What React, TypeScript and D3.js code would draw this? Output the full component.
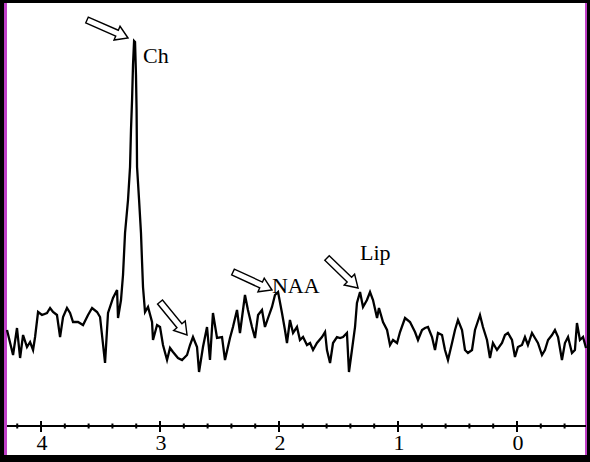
import React, { useEffect, useRef } from "react";
import * as d3 from "d3";

// chemical shift (ppm) and signal amplitude (a.u.)
const shiftPpm = [
  4.286, 4.235, 4.202, 4.176, 4.151, 4.118, 4.092, 4.067, 4.05, 4.025, 3.992, 3.95, 3.924, 3.899,
  3.866, 3.84, 3.815, 3.782, 3.756, 3.731, 3.689, 3.647, 3.605, 3.571, 3.529, 3.504, 3.462, 3.437,
  3.395, 3.361, 3.353, 3.328, 3.311, 3.294, 3.269, 3.252, 3.244, 3.235, 3.227, 3.218, 3.21, 3.202,
  3.197, 3.193, 3.176, 3.16, 3.151, 3.143, 3.126, 3.101, 3.067, 3.059, 3.025, 3.0, 2.975, 2.941,
  2.916, 2.891, 2.849, 2.815, 2.773, 2.748, 2.723, 2.689, 2.672, 2.639, 2.605, 2.58, 2.555, 2.521,
  2.479, 2.454, 2.412, 2.387, 2.353, 2.328, 2.286, 2.261, 2.227, 2.202, 2.176, 2.143, 2.118, 2.092,
  2.059, 2.034, 2.008, 1.975, 1.95, 1.933, 1.908, 1.882, 1.849, 1.824, 1.798, 1.765, 1.739, 1.714,
  1.681, 1.639, 1.613, 1.597, 1.571, 1.546, 1.513, 1.487, 1.462, 1.429, 1.412, 1.387, 1.361, 1.345,
  1.319, 1.294, 1.261, 1.235, 1.21, 1.176, 1.16, 1.126, 1.092, 1.067, 1.042, 1.008, 0.983, 0.941,
  0.899, 0.857, 0.832, 0.798, 0.773, 0.748, 0.714, 0.689, 0.664, 0.63, 0.605, 0.58, 0.546, 0.521,
  0.496, 0.462, 0.437, 0.412, 0.378, 0.353, 0.311, 0.286, 0.252, 0.227, 0.202, 0.168, 0.126, 0.101,
  0.076, 0.042, 0.017, -0.008, -0.042, -0.067, -0.092, -0.126, -0.151, -0.176, -0.21, -0.235,
  -0.261, -0.294, -0.319, -0.345, -0.378, -0.403, -0.429, -0.462, -0.487, -0.504, -0.529, -0.555,
  -0.58,
];

const amplitude = [
  50, 25, 52, 22, 45, 33, 38, 30, 43, 68, 65, 67, 72, 68, 65, 43, 63, 72, 67, 58, 58, 55, 65, 72,
  68, 63, 17, 67, 82, 90, 62, 80, 105, 147, 180, 213, 250, 280, 315, 339, 338, 305, 270, 213, 180,
  147, 118, 93, 68, 73, 58, 40, 55, 53, 35, 20, 32, 28, 22, 20, 25, 35, 43, 33, 8, 33, 53, 20, 67,
  42, 43, 20, 42, 53, 70, 47, 85, 70, 53, 42, 65, 70, 53, 62, 73, 85, 88, 67, 50, 37, 60, 47, 53,
  40, 43, 35, 37, 30, 37, 43, 48, 30, 17, 37, 43, 42, 43, 47, 8, 30, 53, 77, 88, 73, 80, 88, 80,
  62, 72, 58, 50, 35, 40, 37, 48, 62, 58, 48, 40, 50, 52, 53, 43, 30, 47, 45, 30, 20, 37, 50, 60,
  50, 30, 27, 30, 50, 65, 53, 40, 22, 37, 30, 37, 45, 47, 40, 23, 33, 35, 43, 35, 47, 42, 37, 25,
  30, 40, 45, 50, 43, 20, 37, 43, 27, 30, 57, 40, 43, 32,
];

const majorTicks = [4, 3, 2, 1, 0];
const minorTicks = d3.range(-4, 22).map((i) => +(i * 0.2).toFixed(1)).filter((v) => v <= 4.2 && !Number.isInteger(v));

// arrows: tip in data units, tail offset in px, label offset from tip
const peakLabels = ["Ch", "", "NAA", "Lip"];
const arrowTipPpm = [3.269, 2.773, 2.059, 1.336];
const arrowTipAmp = [342, 45, 90, 92];

const W = 590;
const H = 462;

export default function App() {
  const svgRef = useRef<SVGSVGElement>(null);

  useEffect(() => {
    const svg = d3.select(svgRef.current);
    svg.selectAll("*").remove();

    const x = d3.scaleLinear().domain([4.286, -0.58]).range([7, 586]);
    const y = d3.scaleLinear().domain([0, 340]).range([380, 40]);
    const axisY = 426;

    // page background and frame
    svg.append("rect").attr("width", W).attr("height", H).attr("fill", "#000");
    svg.append("rect").attr("x", 4).attr("y", 3).attr("width", 583).attr("height", 452).attr("fill", "#c040c8");
    svg.append("rect").attr("x", 7).attr("y", 3).attr("width", 578).attr("height", 452).attr("fill", "#fff");

    // axis
    const g = svg.append("g");
    g.append("line")
      .attr("x1", 7).attr("x2", 586)
      .attr("y1", axisY).attr("y2", axisY)
      .attr("stroke", "#000").attr("stroke-width", 2);

    g.selectAll(".minor")
      .data(minorTicks)
      .enter()
      .append("line")
      .attr("x1", (d) => x(d)).attr("x2", (d) => x(d))
      .attr("y1", axisY - 2.5).attr("y2", axisY + 2.5)
      .attr("stroke", "#000").attr("stroke-width", 2);

    g.selectAll(".major")
      .data(majorTicks)
      .enter()
      .append("line")
      .attr("x1", (d) => x(d)).attr("x2", (d) => x(d))
      .attr("y1", axisY - 5).attr("y2", axisY + 6)
      .attr("stroke", "#000").attr("stroke-width", 2);

    g.selectAll(".lbl")
      .data(majorTicks)
      .enter()
      .append("text")
      .attr("x", (d) => x(d) + 1)
      .attr("y", axisY + 24)
      .attr("text-anchor", "middle")
      .attr("font-family", "Liberation Serif, serif")
      .attr("font-size", 22)
      .text((d) => d);

    // spectrum
    const pts = shiftPpm.map((p, i) => [p, amplitude[i]] as [number, number]);
    const line = d3
      .line<[number, number]>()
      .x((d) => x(d[0]))
      .y((d) => y(d[1]));
    svg.append("path")
      .attr("d", line(pts))
      .attr("fill", "none")
      .attr("stroke", "#000")
      .attr("stroke-width", 2.3)
      .attr("stroke-linejoin", "miter");

    // hollow arrows
    const tails = [[-41, -18], [-27, -33], [-39, -18], [-31, -30]];
    const labelOff = [[15, 25], [0, 0], [0, 3], [2, -28]];
    peakLabels.forEach((lab, i) => {
      const tx = x(arrowTipPpm[i]);
      const ty = y(arrowTipAmp[i]);
      const [dx, dy] = tails[i];
      const len = Math.hypot(dx, dy);
      const ang = (Math.atan2(-dy, -dx) * 180) / Math.PI;
      const headL = 12, headW = 7.5, shaftW = 3.2;
      const poly = [
        [0, 0],
        [-headL, -headW],
        [-headL, -shaftW],
        [-len, -shaftW],
        [-len, shaftW],
        [-headL, shaftW],
        [-headL, headW],
      ];
      svg.append("polygon")
        .attr("points", poly.map((p) => p.join(",")).join(" "))
        .attr("transform", `translate(${tx},${ty}) rotate(${ang})`)
        .attr("fill", "#fff")
        .attr("stroke", "#000")
        .attr("stroke-width", 1.4)
        .attr("stroke-linejoin", "miter");
      if (lab) {
        svg.append("text")
          .attr("x", tx + labelOff[i][0])
          .attr("y", ty + labelOff[i][1])
          .attr("font-family", "Liberation Serif, serif")
          .attr("font-size", 22)
          .text(lab);
      }
    });
  }, []);

  return (
    <svg
      ref={svgRef}
      width={W}
      height={H}
      style={{ position: "absolute", left: 0, top: 0, display: "block" }}
    ></svg>
  );
}
